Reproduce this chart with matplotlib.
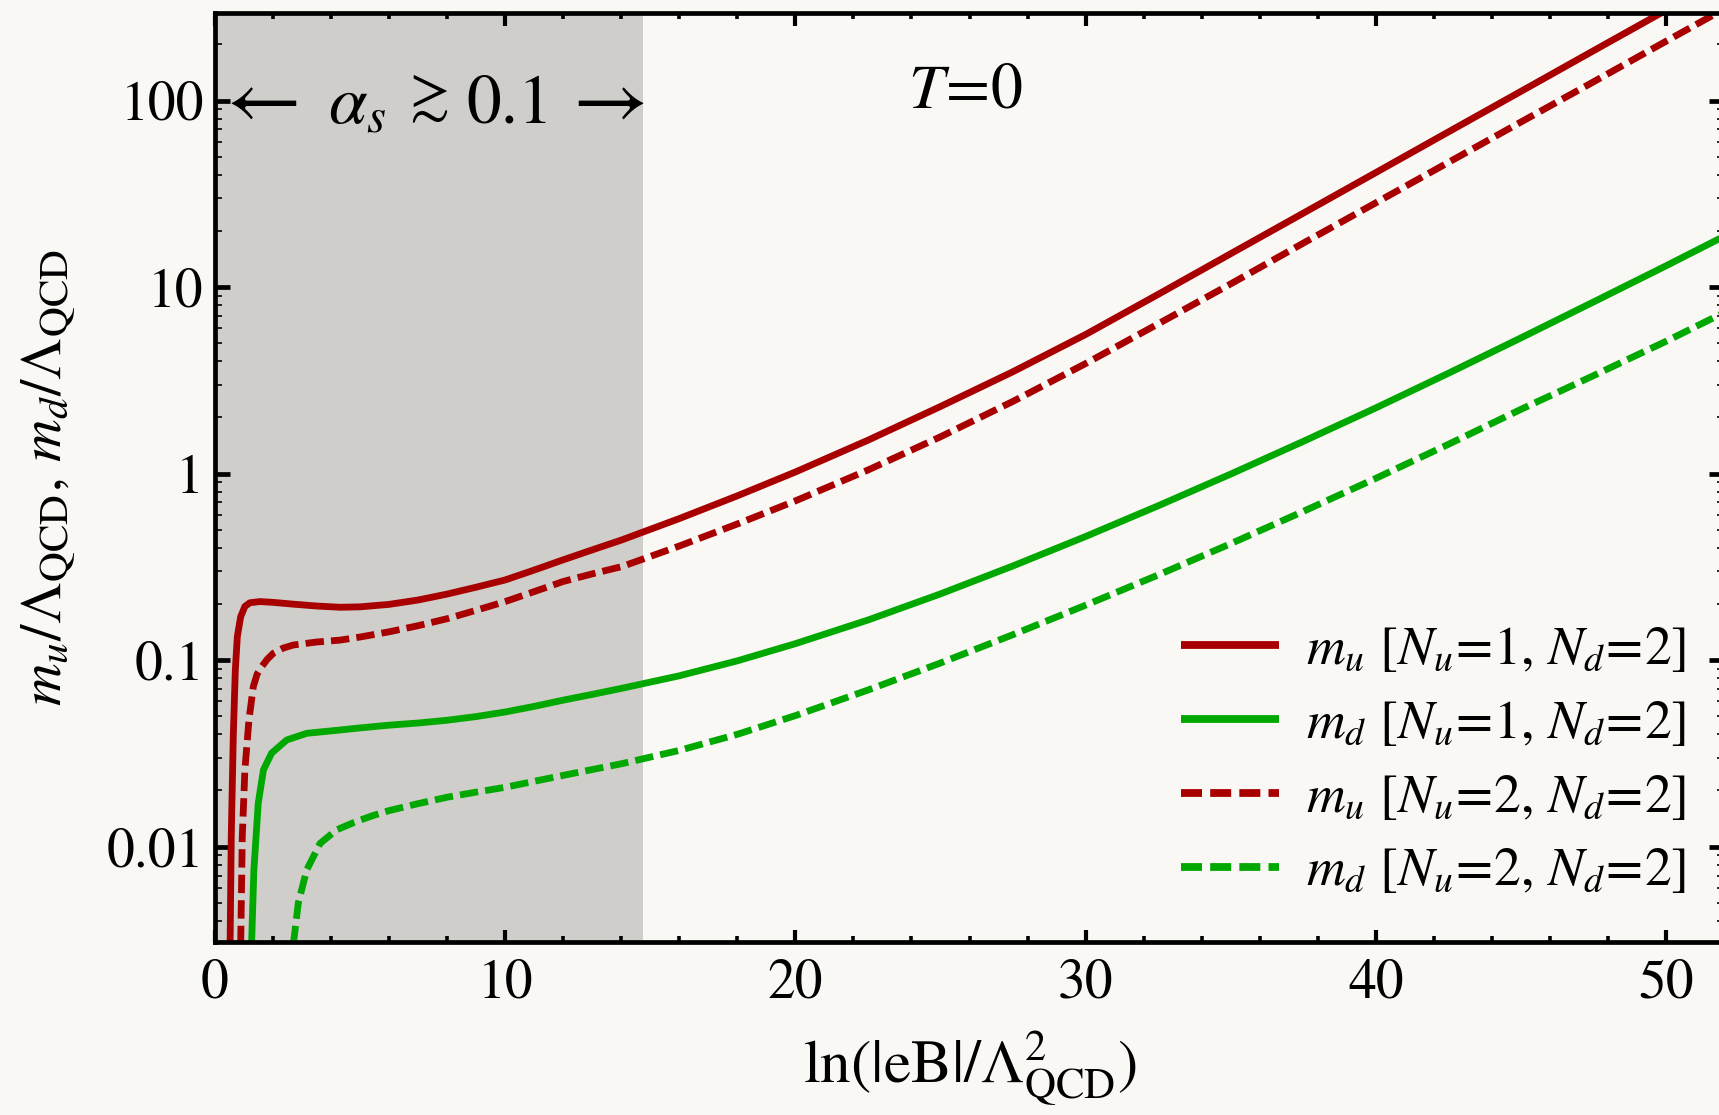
import matplotlib
matplotlib.use("Agg")
import matplotlib.pyplot as plt
from matplotlib.transforms import offset_copy
from matplotlib.ticker import FixedLocator, FixedFormatter, LogLocator, NullFormatter, MultipleLocator

plt.rcParams['font.family'] = ['STIXGeneral', 'DejaVu Serif']
plt.rcParams['mathtext.fontset'] = 'stix'

# ---- data ----
x_mu1 = [0.52, 0.56, 0.63, 0.70, 0.77, 0.885, 1.03, 1.2, 1.55, 2.0, 2.7, 3.5, 4.31, 5.0, 6.0, 7.0,
         8.0, 9.0, 10.0, 11.0, 12.0, 13.0, 14.0, 16.0, 18.0, 20.0, 22.5, 25.0, 27.5, 30.0, 32.5,
         35.0, 37.5, 40.0, 42.5, 45.0, 47.5, 50.0, 52.5]
y_mu1 = [0.0030, 0.0113, 0.039, 0.0885, 0.134, 0.171, 0.194, 0.203, 0.206, 0.204, 0.1995, 0.195,
         0.192, 0.193, 0.199, 0.21, 0.226, 0.246, 0.269, 0.304, 0.345, 0.39, 0.44, 0.574, 0.760,
         1.02, 1.51, 2.29, 3.52, 5.57, 9.14, 15.1, 24.9, 41.1, 67.9, 112.0, 185.0, 305.0, 500.0]

x_mu2 = [0.885, 0.94, 1.03, 1.17, 1.32, 1.45, 1.61, 1.8, 2.01, 2.35, 2.7, 3.5, 4.31, 5.0, 6.02,
         7.0, 8.02, 9.0, 10.0, 11.0, 12.0, 13.0, 14.04, 16.0, 18.0, 20.0, 22.5, 25.0, 27.5, 30.0,
         32.5, 35.0, 37.5, 40.0, 42.5, 45.0, 47.5, 50.0, 52.5]
y_mu2 = [0.0030, 0.0113, 0.0258, 0.0478, 0.0721, 0.084, 0.0923, 0.101, 0.1088, 0.116, 0.1205,
         0.125, 0.128, 0.133, 0.142, 0.153, 0.167, 0.185, 0.206, 0.233, 0.264, 0.29, 0.318, 0.409,
         0.537, 0.714, 1.045, 1.575, 2.44, 3.89, 6.35, 10.4, 17.2, 28.3, 46.6, 76.7, 126.0,
         208.0, 342.0]

x_md1 = [1.26, 1.34, 1.49, 1.67, 1.95, 2.47, 3.16, 4.31, 5.0, 6.0, 7.0, 8.0, 9.0, 10.0, 11.0,
         12.0, 13.0, 14.0, 16.0, 18.0, 20.0, 22.5, 25.0, 27.5, 30.0, 32.5, 35.0, 37.5, 40.0, 42.5,
         45.0, 47.5, 50.0, 52.5]
y_md1 = [0.0030, 0.0075, 0.0171, 0.0258, 0.0317, 0.0373, 0.0405, 0.0422, 0.0433, 0.0448, 0.046,
         0.0476, 0.0498, 0.0527, 0.0565, 0.061, 0.0655, 0.0705, 0.0824, 0.0991, 0.1225, 0.164,
         0.2265, 0.320, 0.46, 0.672, 0.994, 1.488, 2.25, 3.45, 5.34, 8.32, 13.0, 20.5]

x_md2 = [2.70, 2.87, 3.16, 3.62, 4.19, 4.8, 5.4, 6.0, 7.0, 8.0, 9.0, 10.0, 11.0, 12.0, 13.0, 14.0,
         16.0, 18.0, 20.0, 22.5, 25.0, 27.5, 30.0, 32.5, 35.0, 37.5, 40.0, 42.5, 45.0, 47.5, 50.0,
         52.5]
y_md2 = [0.0030, 0.00498, 0.0075, 0.0104, 0.0123, 0.0135, 0.0146, 0.0156, 0.017, 0.0184, 0.0196,
         0.0208, 0.0224, 0.0241, 0.0259, 0.0278, 0.0328, 0.040, 0.0504, 0.0691, 0.0965, 0.137,
         0.197, 0.286, 0.421, 0.627, 0.943, 1.435, 2.21, 3.35, 5.12, 7.98]

labels = [r'$m_u$ [$N_u\!=\!1$, $N_d\!=\!2$]',
          r'$m_d$ [$N_u\!=\!1$, $N_d\!=\!2$]',
          r'$m_u$ [$N_u\!=\!2$, $N_d\!=\!2$]',
          r'$m_d$ [$N_u\!=\!2$, $N_d\!=\!2$]']

x_ticks = [0, 10, 20, 30, 40, 50]
x_ticklabels = ['0', '10', '20', '30', '40', '50']
y_ticks = [0.01, 0.1, 1, 10, 100]
y_ticklabels = ['0.01', '0.1', '1', '10', '100']

shade_x = (0.0, 14.75)
xlim = (0.0, 52.0)
ylim = (0.00308, 296.0)

RED = '#a80000'
GREEN = '#00a800'
BG = '#f9f8f4'

# ---- figure ----
W, H = 1719, 1115
fig = plt.figure(figsize=(W / 100, H / 100), dpi=100, facecolor=BG)
left_px, right_px, top_px, bot_px = 215, 1724, 12.7, 942
ax = fig.add_axes([left_px / W, 1 - bot_px / H, (right_px - left_px) / W, (bot_px - top_px) / H])
ax.set_facecolor(BG)

ax.axvspan(*shade_x, color='#cfceca', zorder=0, lw=0)

lw = 4.9
dash = (2.7, 1.05)
h1, = ax.plot(x_mu1, y_mu1, color=RED, lw=lw, solid_capstyle='butt', solid_joinstyle='round')
h2, = ax.plot(x_md1, y_md1, color=GREEN, lw=lw, solid_capstyle='butt', solid_joinstyle='round')
h3, = ax.plot(x_mu2, y_mu2, color=RED, lw=lw, dashes=dash, dash_capstyle='butt')
h4, = ax.plot(x_md2, y_md2, color=GREEN, lw=lw, dashes=dash, dash_capstyle='butt')

ax.set_yscale('log')
ax.set_xlim(*xlim)
ax.set_ylim(*ylim)

ax.xaxis.set_major_locator(FixedLocator(x_ticks))
ax.xaxis.set_major_formatter(FixedFormatter(x_ticklabels))
ax.xaxis.set_minor_locator(MultipleLocator(2))
ax.yaxis.set_major_locator(FixedLocator(y_ticks))
ax.yaxis.set_major_formatter(FixedFormatter(y_ticklabels))
ax.yaxis.set_minor_locator(LogLocator(base=10, subs=range(2, 10), numticks=20))
ax.yaxis.set_minor_formatter(NullFormatter())

for s in ax.spines.values():
    s.set_linewidth(3.4)
ax.tick_params(axis='both', which='both', direction='in', top=True, right=True, colors='black')
ax.tick_params(axis='x', which='major', length=9, width=3.0, labelsize=40, pad=12)
ax.tick_params(axis='x', which='minor', length=4.5, width=2.6)
ax.tick_params(axis='y', which='major', length=11, width=3.4, labelsize=40, pad=8)
ax.tick_params(axis='y', which='minor', length=5, width=1.2)

ax.set_ylabel(r'$m_u/\Lambda_{\rm QCD},\, m_d/\Lambda_{\rm QCD}$', fontsize=42.5, va='center')
ax.yaxis.set_label_coords((49 - left_px) / (right_px - left_px), 0.5)
ax.set_xlabel(r'$\ln(|{\rm eB}|/\Lambda^2_{\rm QCD})$', fontsize=44, va='center')
ax.xaxis.set_label_coords((970 - left_px) / (right_px - left_px), (bot_px - 1069) / (bot_px - top_px))

base_y = 75.9
ax.text(1.42, base_y, r'$\leftarrow$', fontsize=59, ha='center', va='baseline')
ax.text(3.89, base_y, r'$\alpha_s$', fontsize=50, ha='left', va='baseline')
raised = offset_copy(ax.transData, fig=fig, x=0, y=11, units='dots')
ax.text(7.38, base_y, '≳', fontsize=42, ha='center', va='baseline', transform=raised)
ax.text(8.65, base_y, '0.1', fontsize=50, ha='left', va='baseline')
ax.text(13.37, base_y, r'$\rightarrow$', fontsize=59, ha='center', va='baseline')
ax.text(25.85, 91.4, r'$T\!=\!0$', fontsize=46, ha='center', va='baseline')

leg = ax.legend([h1, h2, h3, h4], labels, loc='lower right', bbox_to_anchor=(0.975, 0.048),
                frameon=False, fontsize=38.7, handlelength=1.82, handletextpad=0.5,
                labelspacing=0.45, borderaxespad=0, borderpad=0)
for ln in leg.get_lines():
    ln.set_linewidth(5.6)

fig.savefig('out.png', dpi=100, facecolor=BG)
